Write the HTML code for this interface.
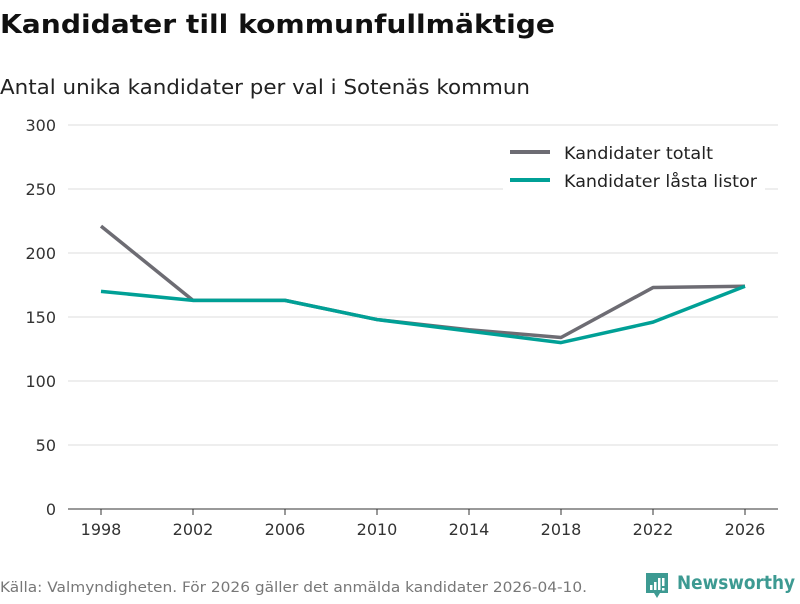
<!DOCTYPE html>
<html><head><meta charset="utf-8"><style>
body{margin:0;width:800px;height:600px;background:#fff;font-family:"DejaVu Sans","Liberation Sans",sans-serif;overflow:hidden}
</style></head><body>
<svg id="c" width="800" height="600" xmlns="http://www.w3.org/2000/svg">
<text x="0" y="33" font-size="26" font-weight="bold" fill="#111" textLength="555" lengthAdjust="spacingAndGlyphs">Kandidater till kommunfullmäktige</text>
<text x="0" y="94" font-size="20" fill="#222" textLength="530" lengthAdjust="spacingAndGlyphs">Antal unika kandidater per val i Sotenäs kommun</text>
<g id="grid"></g><g id="lines"></g>
<rect x="503" y="136" width="262" height="62" fill="#fff"/>
<g><line x1="510" y1="152" x2="550" y2="152" stroke="#6d6c73" stroke-width="4"/><text x="564" y="159" font-size="16.5" fill="#222" textLength="149" lengthAdjust="spacingAndGlyphs">Kandidater totalt</text></g>
<g><line x1="510" y1="180" x2="550" y2="180" stroke="#00a096" stroke-width="4"/><text x="564" y="187" font-size="16.5" fill="#222" textLength="193" lengthAdjust="spacingAndGlyphs">Kandidater låsta listor</text></g>
<text x="0" y="592" font-size="14" fill="#777" textLength="587" lengthAdjust="spacingAndGlyphs">Källa: Valmyndigheten. För 2026 gäller det anmälda kandidater 2026-04-10.</text>
<g><path d="M646 573h22v20h-8l-3 5-3-5h-8z" fill="#3d9a92"/><rect x="650" y="585" width="2.5" height="5" fill="#fff"/><rect x="654" y="582" width="2.5" height="8" fill="#fff"/><rect x="658" y="578" width="2.5" height="12" fill="#fff"/><rect x="662" y="578" width="2.5" height="8" fill="#fff"/><rect x="662" y="588" width="2.5" height="2.5" fill="#fff"/>
<text x="677" y="589" font-size="19" font-weight="bold" fill="#3d9a92" textLength="118" lengthAdjust="spacingAndGlyphs">Newsworthy</text></g>
</svg>
<script>
const years=[1998,2002,2006,2010,2014,2018,2022,2026];
const totalt=[221,163,163,148,140,134,173,174];
const lasta=[170,163,163,148,139,130,146,174];
const yTicks=[0,50,100,150,200,250,300];
const ns="http://www.w3.org/2000/svg";
const x=y=>101+(y-1998)/28*644;
const yv=v=>509-v*1.28;
const grid=document.getElementById('grid'),lines=document.getElementById('lines');
function mk(tag,a,p){const e=document.createElementNS(ns,tag);for(const k in a)e.setAttribute(k,a[k]);p.appendChild(e);return e;}
yTicks.forEach(t=>{
 const l=mk('line',{x1:68,x2:778,y1:yv(t),y2:yv(t),stroke:t==0?'#333':'#ddd','stroke-width':1},grid);
 
 
 const tx=mk('text',{x:56,y:yv(t)+6,'font-size':16,fill:'#333','text-anchor':'end'},grid);tx.textContent=t;
 
 
});
years.forEach(yr=>{
 const tk=mk('line',{x1:x(yr),x2:x(yr),y1:509,y2:515,stroke:'#333'},grid);
 
 
 const tx=mk('text',{x:x(yr),y:535,'font-size':16,fill:'#333','text-anchor':'middle'},grid);tx.textContent=yr;
 
 
});
function line(vals,col,name){
 const p=mk('polyline',{points:vals.map((v,i)=>x(years[i])+','+yv(v)).join(' '),fill:'none',stroke:col,'stroke-width':3.5,'stroke-linejoin':'round'},lines);
 
 
}
line(totalt,'#6d6c73','line-kandidater-totalt');
line(lasta,'#00a096','line-kandidater-lasta-listor');
</script>
</body></html>
